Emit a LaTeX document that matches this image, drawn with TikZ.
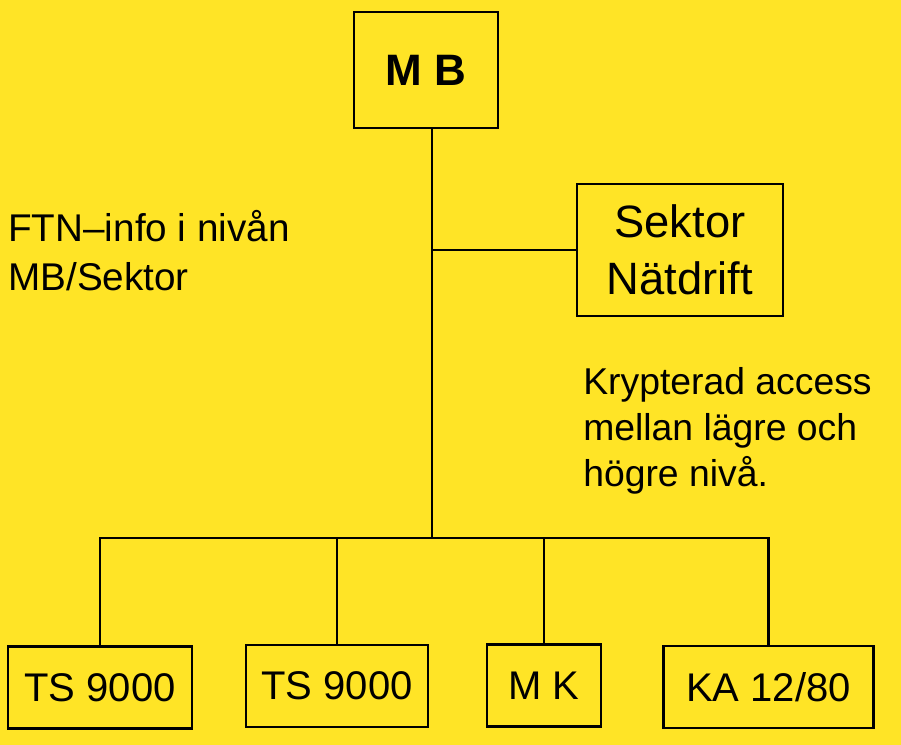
\documentclass[tikz,border=0pt]{standalone}
\usepackage{fontspec}
\setmainfont{Liberation Sans}
\definecolor{bgyellow}{RGB}{255,228,38}
\tikzset{
  unit/.style={draw,line width=2.2pt,inner sep=0pt,align=center,font=\fontsize{30}{36}\selectfont},
  note/.style={anchor=base west,align=left,inner sep=0pt},
  link/.style={line width=2.2pt}
}

\begin{document}
\begin{tikzpicture}[y=-0.75pt,x=0.75pt]
  \fill[bgyellow] (0,0) rectangle (901,745);
  \useasboundingbox (0,0) rectangle (901,745);
  \node[unit,minimum width=108pt,minimum height=87pt,font=\fontsize{33}{40}\selectfont\bfseries] (mb) at (426,70) {M B};
  \node[unit,minimum width=154.5pt,minimum height=99pt,font=\fontsize{34}{43}\selectfont] (sektor) at (680,250) {Sektor\\Nätdrift};
  \node[unit,minimum width=138pt,minimum height=61pt] (ts1) at (100,687.5) {TS 9000};
  \node[unit,minimum width=136.5pt,minimum height=61.5pt] (ts2) at (337,686) {TS 9000};
  \node[unit,minimum width=85.5pt,minimum height=62pt] (mk) at (544,685.5) {M K};
  \node[unit,minimum width=157pt,minimum height=61.5pt] (ka) at (768.5,687) {KA 12/80};
  \coordinate (hub) at (432,538);
  \draw[link] (mb.south -| hub) -- (hub);
  \draw[link] (sektor.west) -- (sektor.west -| hub);
  \draw[link] (ts1.north) |- (hub) -| (ka.north);
  \draw[link] (hub) -| (ts2.north);
  \draw[link] (hub) -| (mk.north);
  \node[note,font=\fontsize{29}{36.75}\selectfont] (ftn) at (8,291) {FTN--info i nivån\\MB/Sektor};
  \node[note,font=\fontsize{28}{34.5}\selectfont] (krypt) at (583,487) {Krypterad access\\mellan lägre och\\högre nivå.};
\end{tikzpicture}
\end{document}
